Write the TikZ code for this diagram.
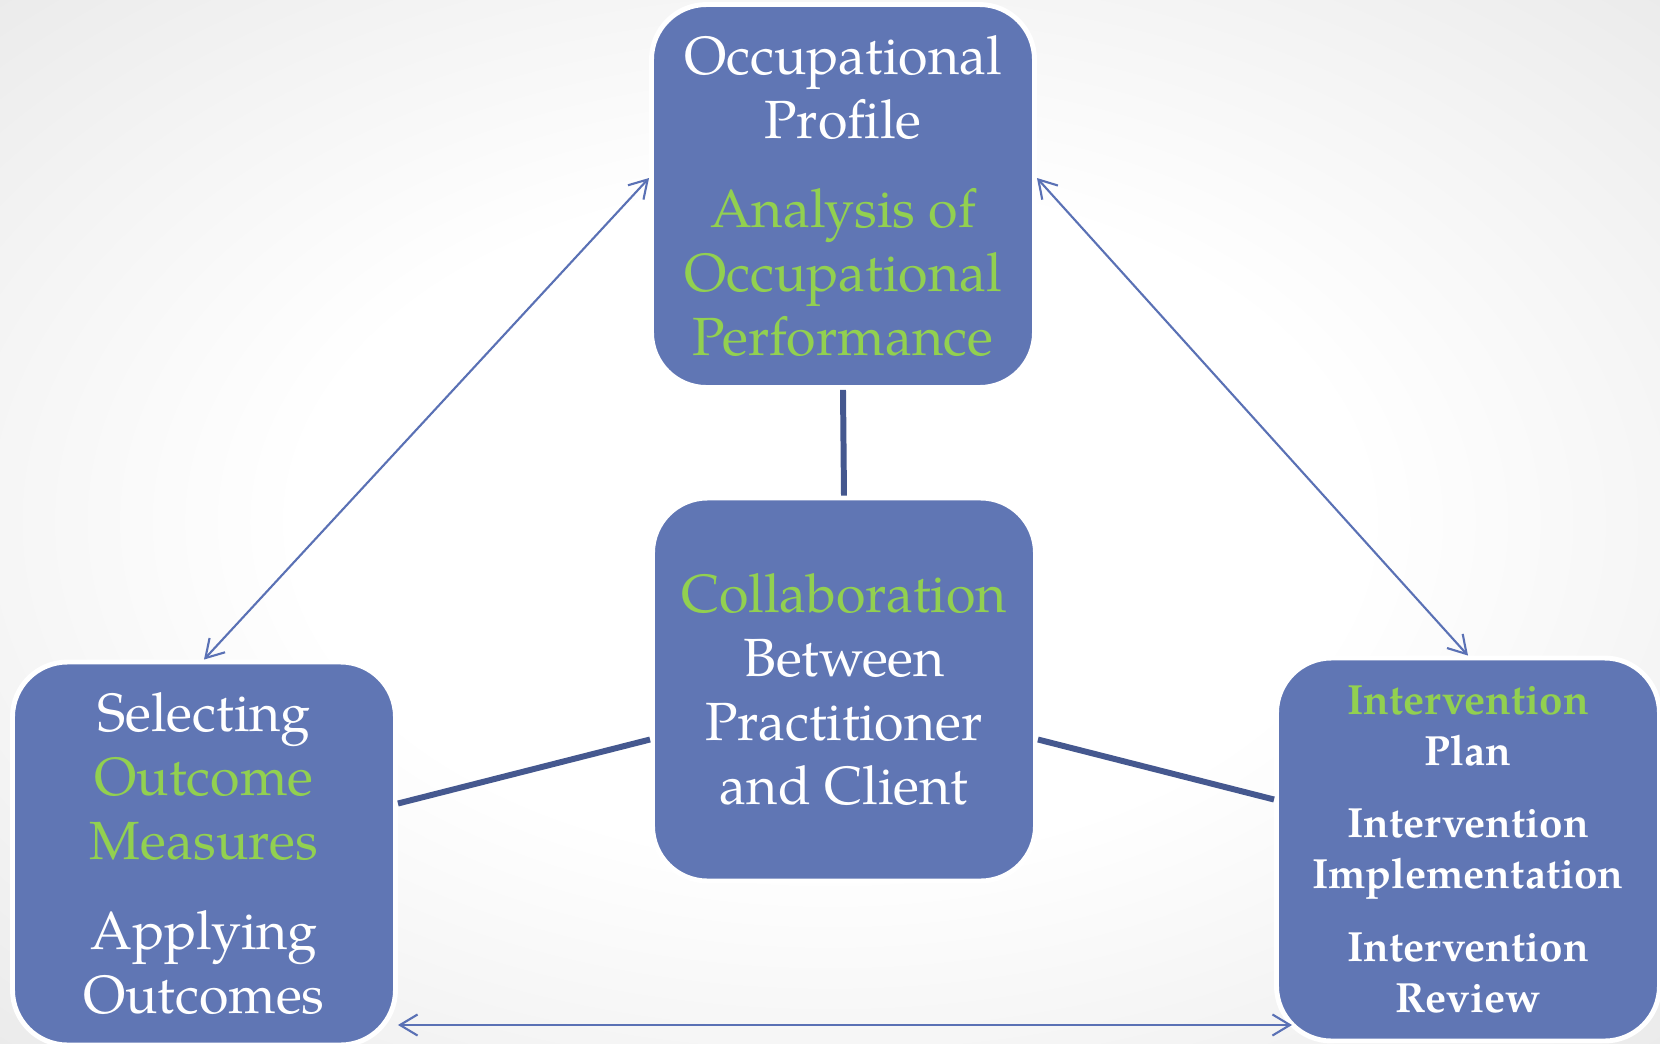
\documentclass[tikz,border=0pt]{standalone}
\usepackage{fontspec}
\setmainfont{TeX Gyre Pagella}
\usetikzlibrary{arrows.meta,calc}
\definecolor{boxblue}{HTML}{6076B4}
\definecolor{leafgreen}{HTML}{92D050}
\definecolor{linkblue}{HTML}{45588F}
\definecolor{arrowblue}{HTML}{5A71B5}
\pgfdeclareradialshading{backdrop}{\pgfpoint{0bp}{0bp}}{color(0bp)=(white); color(16bp)=(white); color(36bp)=(black!8); color(50bp)=(black!8)}
\newcommand{\hl}[1]{\textcolor{leafgreen}{#1}}
\tikzset{
  stage/.style={rounded corners=5.5mm, fill=boxblue, draw=white, line width=1.4pt,
    minimum width=38.3mm, minimum height=38.3mm, text=white, align=center,
    font=\fontsize{15.3}{18.2}\selectfont},
  link/.style={linkblue, line width=1.7pt},
  twoway/.style={arrowblue, line width=0.6pt,
    {Straight Barb[length=5pt,width=6pt]}-{Straight Barb[length=5pt,width=6pt]}}
}
\begin{document}
\begin{tikzpicture}[x=0.1mm, y=-0.1mm]
      \useasboundingbox (0,0) rectangle (1660,1043);
      \shade[shading=backdrop] (0,0) rectangle (1660,1043);
      \node[stage] (P) at (843,196) {Occupational\\Profile\\[7.4pt]\hl{Analysis of}\\\hl{Occupational}\\\hl{Performance}};
      \node[stage] (C) at (844,689.5) {\hl{Collaboration}\\Between\\Practitioner\\and Client};
      \node[stage] (S) at (204,853.5) {Selecting\\\hl{Outcome}\\\hl{Measures}\\[7.4pt]Applying\\Outcomes};
      \node[stage, font=\bfseries\fontsize{12}{14.5}\selectfont] (I) at (1468,849.5) {\hl{Intervention}\\Plan\\[6pt]Intervention\\Implementation\\[6.4pt]Intervention\\Review};
      \draw[link] (P.south) -- (C.north);
      \draw[link] ($(S.east)+(0,-50)$) -- ($(C.west)+(0,50)$);
      \draw[link] ($(C.east)+(0,50)$) -- ($(I.west)+(0,-50)$);
      \draw[twoway] (S.north) -- ($(P.west)+(0,-18)$);
      \draw[twoway] ($(P.east)+(0,-18)$) -- (I.north);
      \draw[twoway] ($(S.east)+(0,171.5)$) -- ($(I.west)+(18,175.5)$);
    \end{tikzpicture}
\end{document}
